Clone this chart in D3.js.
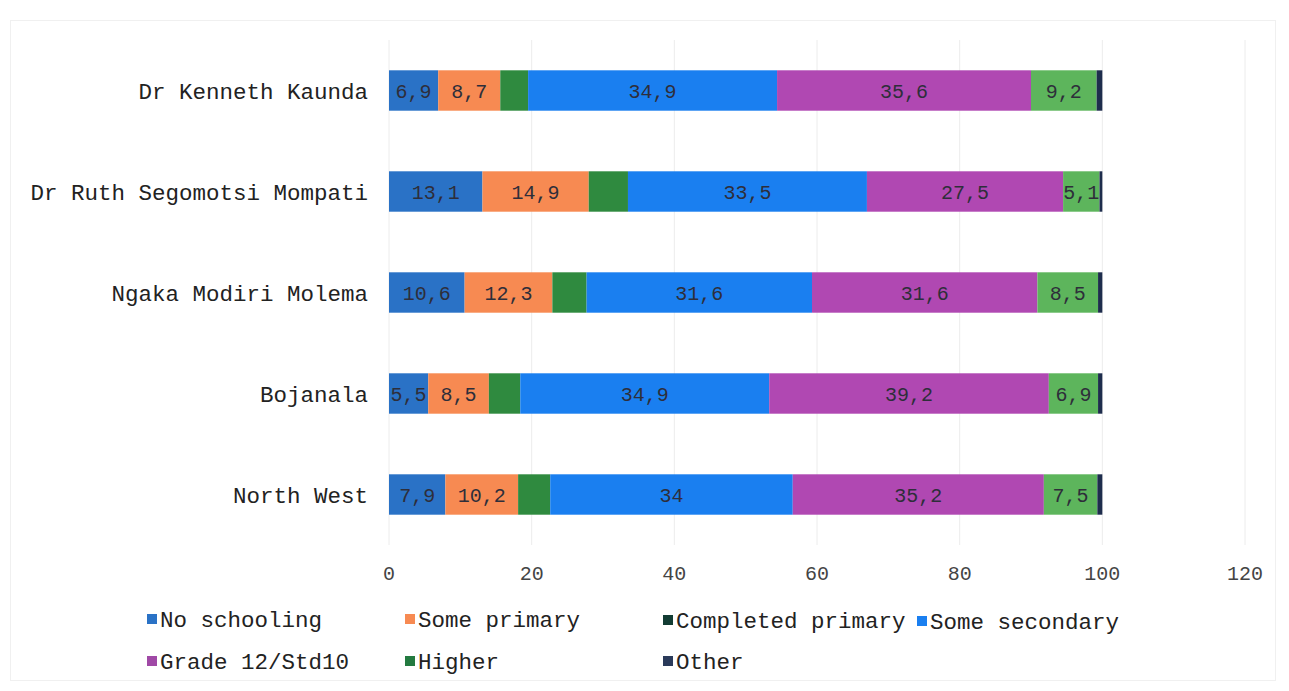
<!DOCTYPE html>
<meta charset="utf-8">
<script src="https://cdn.jsdelivr.net/npm/d3@7"></script>
<style>
body { margin: 0; background: #fff; }
text { font-family: "Liberation Mono", "DejaVu Sans Mono", monospace; }
.grid line { stroke: #ececec; stroke-width: 1px; }
</style>
<body>
<script>

// districts, top to bottom
var districts = ["Dr Kenneth Kaunda", "Dr Ruth Segomotsi Mompati", "Ngaka Modiri Molema", "Bojanala", "North West"];
var levels = ["No schooling", "Some primary", "Completed primary", "Some secondary", "Grade 12/Std10", "Higher", "Other"];

// percentages per level (order follows districts)
var noSchooling      = [6.9, 13.1, 10.6, 5.5, 7.9];
var somePrimary      = [8.7, 14.9, 12.3, 8.5, 10.2];
var completedPrimary = [3.9, 5.5, 4.8, 4.4, 4.5];
var someSecondary    = [34.9, 33.5, 31.6, 34.9, 34];
var grade12          = [35.6, 27.5, 31.6, 39.2, 35.2];
var higher           = [9.2, 5.1, 8.5, 6.9, 7.5];
var other            = [0.8, 0.4, 0.6, 0.6, 0.7];
var xTicks = [0, 20, 40, 60, 80, 100, 120];

var seriesValues = [noSchooling, somePrimary, completedPrimary, someSecondary, grade12, higher, other];
var showLabel = [true, true, false, true, true, true, false];
var barColors = ["#2a72c6", "#f78a52", "#2f8a3f", "#1a7ff0", "#b048b2", "#5db55c", "#1e2d4d"];
var legendColors = ["#2a72c6", "#f78a52", "#123c33", "#1a7ff0", "#a049a6", "#237a40", "#2a3a5a"];

var width = 1289, height = 691;

var svg = d3.select("body").append("svg")
    .attr("width", width)
    .attr("height", height);

// outer frame
svg.append("rect")
    .attr("x", 10.5).attr("y", 20.5)
    .attr("width", 1265).attr("height", 660)
    .attr("fill", "none")
    .attr("stroke", "#f0f0f0");

var x = d3.scaleLinear().domain([0, 120]).range([389, 1245]);
var y = d3.scaleBand().domain(districts).range([40, 545]).paddingInner(0.6).paddingOuter(0.3);

// gridlines
svg.append("g").attr("class", "grid")
  .selectAll("line")
  .data(xTicks)
  .enter().append("line")
    .attr("x1", d => x(d)).attr("x2", d => x(d))
    .attr("y1", 40).attr("y2", 545);

// stack rows
var rows = districts.map(function(name, i) {
  var row = { district: name };
  levels.forEach(function(l, j) { row[l] = seriesValues[j][i]; });
  return row;
});
var stacked = d3.stack().keys(levels)(rows);

var groups = svg.append("g")
  .selectAll("g")
  .data(stacked)
  .enter().append("g")
    .attr("fill", (d, i) => barColors[i]);

groups.selectAll("rect")
  .data(d => d)
  .enter().append("rect")
    .attr("x", d => x(d[0]))
    .attr("width", d => x(d[1]) - x(d[0]))
    .attr("y", d => y(d.data.district))
    .attr("height", y.bandwidth());

// value labels
var fmt = v => String(v).replace(".", ",");
stacked.forEach(function(s, i) {
  if (!showLabel[i]) return;
  svg.append("g")
    .selectAll("text")
    .data(s)
    .enter().append("text")
      .attr("x", d => (x(d[0]) + x(d[1])) / 2)
      .attr("y", d => y(d.data.district) + y.bandwidth() / 2)
      .attr("dy", "0.36em")
      .attr("text-anchor", "middle")
      .attr("font-size", 20)
      .attr("fill", "#2e2e3a")
      .text(d => fmt(+(d[1] - d[0]).toFixed(1)));
});

// category labels
svg.append("g")
  .selectAll("text")
  .data(districts)
  .enter().append("text")
    .attr("x", 368)
    .attr("y", d => y(d) + y.bandwidth() / 2)
    .attr("dy", "0.36em")
    .attr("text-anchor", "end")
    .attr("font-size", 22.5)
    .attr("fill", "#222")
    .text(d => d);

// x tick labels
svg.append("g")
  .selectAll("text")
  .data(xTicks)
  .enter().append("text")
    .attr("x", d => x(d))
    .attr("y", 573)
    .attr("dy", "0.36em")
    .attr("text-anchor", "middle")
    .attr("font-size", 20)
    .attr("fill", "#444")
    .text(d => d);

// legend
var legendPos = [[147, 619], [405, 619], [663, 620], [917, 621], [147, 661], [405, 661], [663, 661]];
var legend = svg.append("g")
  .selectAll("g")
  .data(levels)
  .enter().append("g")
    .attr("transform", (d, i) => "translate(" + legendPos[i][0] + "," + legendPos[i][1] + ")");
legend.append("rect")
    .attr("x", 0).attr("y", -5)
    .attr("width", 10).attr("height", 10)
    .attr("fill", (d, i) => legendColors[i]);
legend.append("text")
    .attr("x", 13)
    .attr("dy", "0.36em")
    .attr("font-size", 22.5)
    .attr("fill", "#222")
    .text(d => d);

</script>
</body>
